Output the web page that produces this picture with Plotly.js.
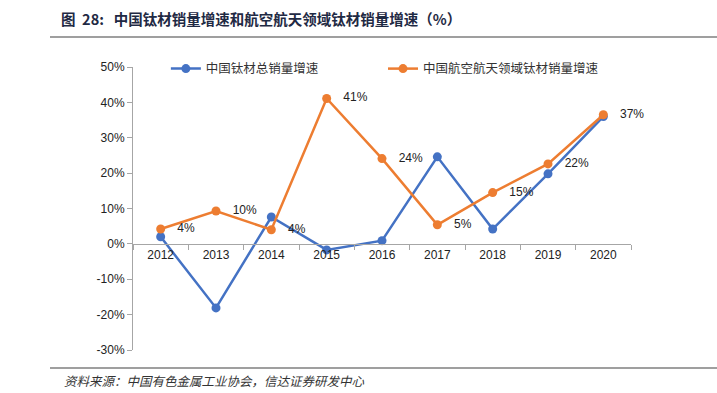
<!DOCTYPE html>
<html>
<head>
<meta charset="utf-8">
<script src="https://cdn.plot.ly/plotly-3.0.1.min.js"></script>
<style>html,body{margin:0;padding:0;background:#fff;}#chart{width:717px;height:393px;}</style>
</head>
<body>
<div id="chart"></div>
<script>
const years = ['2012','2013','2014','2015','2016','2017','2018','2019','2020'];
const totalGrowth = [2.0, -18.1, 7.6, -1.7, 0.9, 24.6, 4.2, 19.8, 36.0];
const aeroGrowth = [4.2, 9.3, 4.0, 41.1, 24.1, 5.4, 14.5, 22.6, 36.5];
const aeroLabels = ['4%','10%','4%','41%','24%','5%','15%','22%','37%'];
const yTickVals = [-30,-20,-10,0,10,20,30,40,50];
const yTickText = ['-30%','-20%','-10%','0%','10%','20%','30%','40%','50%'];

const traces = [
  {
    x: years, y: totalGrowth, type: 'scatter', mode: 'lines+markers',
    name: '中国钛材总销量增速', legend: 'legend',
    line: {color: '#4472C4', width: 2.5},
    marker: {color: '#4472C4', size: 9},
    cliponaxis: false
  },
  {
    x: years, y: aeroGrowth, type: 'scatter', mode: 'lines+markers+text',
    name: '中国航空航天领域钛材销量增速', legend: 'legend2',
    text: aeroLabels.map(t => '   ' + t),
    textposition: 'middle right',
    textfont: {family: 'Liberation Sans, Arial, sans-serif', size: 12, color: '#222'},
    line: {color: '#ED7D31', width: 2.5},
    marker: {color: '#ED7D31', size: 9},
    cliponaxis: false
  }
];

const legendFont = {family: 'Noto Sans CJK SC, sans-serif', size: 12.5, color: '#333'};

const layout = {
  width: 717, height: 393,
  margin: {l: 133, r: 86, t: 67, b: 43},
  paper_bgcolor: '#fff', plot_bgcolor: '#fff',
  font: {family: 'Liberation Sans, Arial, sans-serif', size: 12, color: '#222'},
  showlegend: true,
  title: {
    text: '<b>图&nbsp;&nbsp;28:&nbsp;&nbsp;&nbsp;中国钛材销量增速和航空航天领域钛材销量增速（%）</b>',
    x: 61/717, xanchor: 'left', xref: 'container',
    y: 1 - 20/393, yanchor: 'middle', yref: 'container',
    font: {family: 'Noto Sans CJK SC, sans-serif', size: 14.5, color: '#1f2a44'}
  },
  legend: {
    orientation: 'h', x: 0.066, xanchor: 'left', y: 0.993, yanchor: 'middle',
    itemwidth: 30, font: legendFont, bgcolor: 'rgba(0,0,0,0)'
  },
  legend2: {
    orientation: 'h', x: 0.502, xanchor: 'left', y: 0.993, yanchor: 'middle',
    itemwidth: 30, font: legendFont, bgcolor: 'rgba(0,0,0,0)'
  },
  xaxis: {
    type: 'category', range: [-0.5, 8.5],
    anchor: 'free', position: 0.375,
    showline: true, linecolor: '#a6a6a6', linewidth: 1,
    ticks: 'outside', tickson: 'boundaries', ticklen: 5, tickcolor: '#a6a6a6',
    showgrid: false, zeroline: false,
    tickfont: {size: 12, color: '#222'}
  },
  yaxis: {
    range: [-30, 50], domain: [0, 1],
    tickvals: yTickVals, ticktext: yTickText,
    showline: true, linecolor: '#a6a6a6', linewidth: 1,
    ticks: 'outside', ticklen: 5, tickcolor: '#a6a6a6',
    showgrid: false, zeroline: false,
    tickfont: {size: 12, color: '#222'}
  },
  shapes: [
    {type: 'line', xref: 'paper', yref: 'paper', x0: (50-133)/498, x1: (717-133)/498,
     y0: (350-37)/283, y1: (350-37)/283, line: {color: '#7f7f7f', width: 1.5}},
    {type: 'line', xref: 'paper', yref: 'paper', x0: (50-133)/498, x1: (717-133)/498,
     y0: (350-368)/283, y1: (350-368)/283, line: {color: '#7f7f7f', width: 1.5}}
  ],
  annotations: [
    {text: '<i>资料来源：中国有色金属工业协会，信达证券研发中心</i>', xref: 'paper', yref: 'paper',
     x: (62-133)/498, xanchor: 'left', y: (350-380)/283, yanchor: 'middle', showarrow: false,
     font: {family: 'Noto Sans CJK SC, sans-serif', size: 12.5, color: '#333'}}
  ]
};

Plotly.newPlot('chart', traces, layout, {displayModeBar: false, staticPlot: true});
</script>
</body>
</html>
